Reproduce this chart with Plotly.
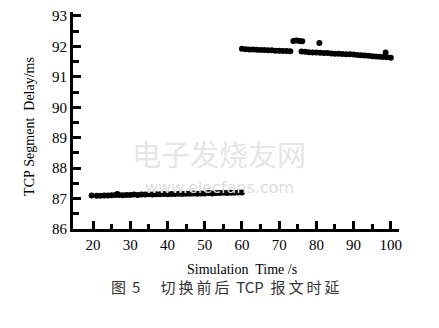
import plotly.graph_objects as go

# Before handover (20-60 s)
x_before = [19.6, 21, 22, 23, 24, 25, 26, 26.5, 27, 28, 29, 30, 31, 32, 33, 34, 35, 36, 37, 38, 39, 40,
            41, 42, 43, 44, 45, 46, 47, 48, 49, 50, 51, 52, 53, 54, 55, 56, 57, 58, 59, 60]
y_before = [87.10, 87.09, 87.09, 87.10, 87.10, 87.11, 87.12, 87.15, 87.12, 87.11, 87.12, 87.12, 87.13,
            87.12, 87.13, 87.13, 87.14, 87.13, 87.14, 87.14, 87.15, 87.14, 87.15, 87.15, 87.16, 87.15,
            87.16, 87.16, 87.17, 87.16, 87.17, 87.17, 87.18, 87.17, 87.18, 87.18, 87.19, 87.18, 87.19,
            87.19, 87.20, 87.20]

# After handover (60-100 s)
x_after = [60, 61, 62, 63, 64, 65, 66, 67, 68, 69, 70, 71, 72, 73,
           73.8, 74.6, 75.4, 76.2, 80.8,
           76, 77, 78, 79, 80, 81, 82, 83, 84, 85, 86, 87, 88, 89, 90, 91, 92, 93, 94, 95, 96, 97, 98,
           98.6, 99, 100]
y_after = [91.92, 91.91, 91.90, 91.90, 91.89, 91.88, 91.88, 91.87, 91.87, 91.86, 91.86, 91.85, 91.85, 91.84,
           92.18, 92.19, 92.18, 92.17, 92.11,
           91.83, 91.82, 91.81, 91.80, 91.80, 91.79, 91.78, 91.78, 91.77, 91.76, 91.76, 91.75, 91.74,
           91.74, 91.73, 91.72, 91.71, 91.70, 91.69, 91.68, 91.67, 91.66, 91.65,
           91.80, 91.64, 91.63]

x_ticks = [20, 30, 40, 50, 60, 70, 80, 90, 100]
y_ticks = [86, 87, 88, 89, 90, 91, 92, 93]

SERIF = "Liberation Serif, Times New Roman, serif"

fig = go.Figure()
for xs, ys in [(x_before, y_before), (x_after, y_after)]:
    fig.add_trace(go.Scatter(x=xs, y=ys, mode="markers",
                             marker=dict(color="black", size=6, line=dict(width=0)),
                             showlegend=False, hoverinfo="skip"))

axis_common = dict(showline=True, linecolor="black", linewidth=3, showgrid=False, zeroline=False,
                   ticks="inside", ticklen=8, tickwidth=3, tickcolor="black",
                   tickfont=dict(family=SERIF, size=15, color="black"))

fig.update_xaxes(range=[14.6, 102.2], tickvals=x_ticks,
                 minor=dict(tickvals=[25, 35, 45, 55, 65, 75, 85, 95], ticklen=5, tickwidth=3,
                            tickcolor="black", ticks="inside"),
                 **axis_common)
fig.update_yaxes(range=[86, 93.13], tickvals=y_ticks,
                 minor=dict(tickvals=[86.5, 87.5, 88.5, 89.5, 90.5, 91.5, 92.5], ticklen=6, tickwidth=3,
                            tickcolor="black", ticks="inside"),
                 **axis_common)

fig.update_layout(
    width=439, height=328,
    margin=dict(l=73, r=40, t=8, b=99),
    paper_bgcolor="white", plot_bgcolor="white",
)

def px_x(px):
    return (px - 73) / (399 - 73)

def px_y(py):
    return (229 - py) / (229 - 8)

# faint watermark (drawn first, beneath other text)
fig.add_annotation(text="电子发烧友网", x=px_x(219), y=px_y(152), xref="paper", yref="paper",
                   showarrow=False, font=dict(family="Noto Sans CJK SC", size=29, color="#e6e6e6"),
                   xanchor="center", yanchor="middle")
fig.add_annotation(text="www.elecfans.com", x=px_x(219), y=px_y(187), xref="paper", yref="paper",
                   showarrow=False, font=dict(family="DejaVu Sans", size=16, color="#dddddd"),
                   xanchor="center", yanchor="middle")

fig.add_annotation(text="Simulation\u00a0 Time\u00a0/s", x=px_x(242), y=px_y(270), xref="paper", yref="paper",
                   showarrow=False, font=dict(family=SERIF, size=14, color="black"),
                   xanchor="center", yanchor="middle")
fig.add_annotation(text="TCP\u00a0Segment\u00a0 Delay/ms", x=px_x(30), y=px_y(125), xref="paper", yref="paper",
                   showarrow=False, textangle=-90, font=dict(family=SERIF, size=14, color="black"),
                   xanchor="center", yanchor="middle")
fig.add_annotation(text="图\u2009\u20095\u00a0\u00a0\u00a0\u00a0\u00a0 切\u2009换\u2009前\u2009后\u00a0 TCP\u00a0 报\u2009文\u2009时\u2009延",
                   x=px_x(225), y=px_y(288), xref="paper", yref="paper",
                   showarrow=False, font=dict(family="Noto Sans CJK SC, " + SERIF, size=15, color="#333333"),
                   xanchor="center", yanchor="middle")

fig.write_html("out.html")
